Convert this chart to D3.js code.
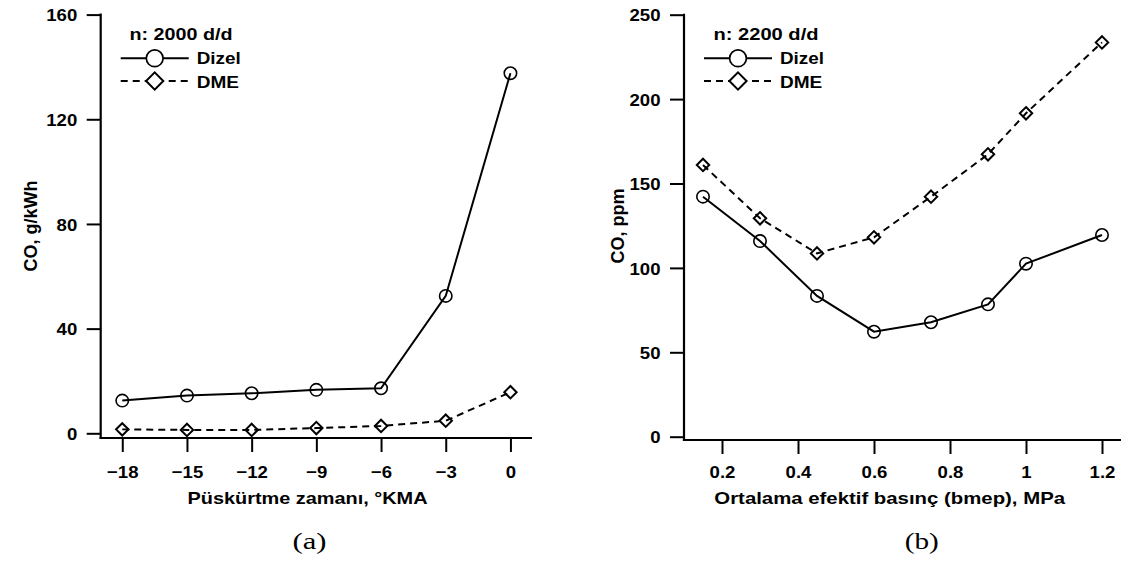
<!DOCTYPE html>
<html>
<head>
<meta charset="utf-8">
<script src="https://cdn.jsdelivr.net/npm/d3@7"></script>
<style>
  html, body { margin: 0; padding: 0; background: #fff; }
  svg { display: block; }
  text { font-family: "Liberation Sans", Arial, Helvetica, sans-serif; font-weight: bold; fill: #000; }
  text.cap { font-family: "Liberation Serif", "Times New Roman", serif; font-weight: normal; }
</style>
</head>
<body>
<svg id="chart" width="1121" height="565"></svg>
<script>
// (a) CO vs injection timing at 2000 rpm
const timingX = [-18, -15, -12, -9, -6, -3, 0];
const timingDizel = [12.5, 14.4, 15.3, 16.6, 17.2, 52.5, 137.6];
const timingDME = [1.5, 1.3, 1.3, 2.0, 2.8, 4.8, 15.7];
const timingXTicks = [-18, -15, -12, -9, -6, -3, 0];
const timingYTicks = [0, 40, 80, 120, 160];

// (b) CO vs brake mean effective pressure at 2200 rpm
const bmepX = [0.15, 0.3, 0.45, 0.6, 0.75, 0.9, 1.0, 1.2];
const bmepDizel = [142.2, 115.9, 83.4, 62.2, 67.8, 78.4, 102.5, 119.5];
const bmepDME = [161, 129.4, 108.6, 118.1, 142.2, 167.3, 191.6, 233.6];
const bmepXTicks = [0.2, 0.4, 0.6, 0.8, 1, 1.2];
const bmepYTicks = [0, 50, 100, 150, 200, 250];

const seriesNames = ["Dizel", "DME"];

const svg = d3.select("#chart");
const FS = 17;

// horizontal stretch that gives the bold tick digits their wide look
const probe = svg.append("text").attr("font-size", FS).text("160");
const tickStretch = 31 / probe.node().getComputedTextLength();
probe.remove();

// squeeze/stretch a horizontal label to a given width
function fit(sel, w) {
  return sel.attr("textLength", w).attr("lengthAdjust", "spacingAndGlyphs");
}

const panels = [
  {
    x: timingX, dizel: timingDizel, dme: timingDME,
    xTicks: timingXTicks, yTicks: timingYTicks,
    xDomain: [-19, 1], xRange: [100.7, 532],
    yDomain: [0, 160], yRange: [433.3, 14.6],
    xAxisY: 438,
    title: "Püskürtme zamanı, °KMA", titleX: 307.5, titleW: 240,
    yTitle: "CO, g/kWh", yTitleX: 37,
    legendHead: "n: 2000 d/d", legendX: 120.7, legendHeadX: 181, legendHeadW: 103,
    caption: "(a)", captionX: 309.5,
    fmt: d => d3.format("d")(d)
  },
  {
    x: bmepX, dizel: bmepDizel, dme: bmepDME,
    xTicks: bmepXTicks, yTicks: bmepYTicks,
    xDomain: [0.1, 1.25], xRange: [684, 1121],
    yDomain: [0, 250], yRange: [436.7, 14.7],
    xAxisY: 440,
    title: "Ortalama efektif basınç (bmep), MPa", titleX: 889.7, titleW: 350.7,
    yTitle: "CO, ppm", yTitleX: 624,
    legendHead: "n: 2200 d/d", legendX: 704, legendHeadX: 766, legendHeadW: 105,
    caption: "(b)", captionX: 921.7,
    fmt: d => String(d)
  }
];

panels.forEach(p => {
  const x = d3.scaleLinear().domain(p.xDomain).range(p.xRange);
  const y = d3.scaleLinear().domain(p.yDomain).range(p.yRange);
  const g = svg.append("g");
  const x0 = p.xRange[0];

  // bottom axis, drawn a little below the zero level
  const xa = g.append("g")
    .attr("transform", `translate(0,${p.xAxisY})`)
    .call(d3.axisBottom(x).tickValues(p.xTicks).tickSize(14).tickSizeOuter(0).tickFormat(p.fmt));
  xa.select(".domain").remove();
  xa.attr("font-family", null);
  xa.selectAll(".tick line").attr("stroke", "#000").attr("stroke-width", 2);
  xa.selectAll(".tick text")
    .attr("y", 478.3 - p.xAxisY).attr("dy", null)
    .attr("font-size", FS)
    .attr("transform", `scale(${tickStretch},1)`);

  // left axis
  const ya = g.append("g")
    .attr("transform", `translate(${x0},0)`)
    .call(d3.axisLeft(y).tickValues(p.yTicks).tickSize(14).tickSizeOuter(0));
  ya.select(".domain").remove();
  ya.attr("font-family", null);
  ya.selectAll(".tick line").attr("stroke", "#000").attr("stroke-width", 2);
  ya.selectAll(".tick text")
    .attr("x", -23.5 / tickStretch).attr("dy", "0.36em")
    .attr("font-size", FS)
    .attr("transform", `scale(${tickStretch},1)`);

  // axis lines
  g.append("line")
    .attr("x1", x0).attr("x2", x0)
    .attr("y1", p.yRange[1] - 1).attr("y2", p.xAxisY + 1)
    .attr("stroke", "#000").attr("stroke-width", 2.2);
  g.append("line")
    .attr("x1", x0 - 1.1).attr("x2", p.xRange[1])
    .attr("y1", p.xAxisY).attr("y2", p.xAxisY)
    .attr("stroke", "#000").attr("stroke-width", 2.2);

  const line = d3.line().x(d => x(d[0])).y(d => y(d[1]));
  const dizelPts = p.x.map((v, i) => [v, p.dizel[i]]);
  const dmePts = p.x.map((v, i) => [v, p.dme[i]]);

  g.append("path").datum(dizelPts).attr("d", line)
    .attr("fill", "none").attr("stroke", "#000").attr("stroke-width", 2);
  g.append("path").datum(dmePts).attr("d", line)
    .attr("fill", "none").attr("stroke", "#000").attr("stroke-width", 2)
    .attr("stroke-dasharray", "7,5");

  const diamond = (cx, cy, r) => `M${cx},${cy - r}L${cx + r},${cy}L${cx},${cy + r}L${cx - r},${cy}Z`;

  g.selectAll(".mc").data(dizelPts).join("circle")
    .attr("cx", d => x(d[0])).attr("cy", d => y(d[1])).attr("r", 6.2)
    .attr("fill", "none").attr("stroke", "#000").attr("stroke-width", 1.6);
  g.selectAll(".md").data(dmePts).join("path")
    .attr("d", d => diamond(x(d[0]), y(d[1]), 6.2))
    .attr("fill", "none").attr("stroke", "#000").attr("stroke-width", 2);

  // legend
  const lx = p.legendX, lw = 68;
  fit(g.append("text").attr("text-anchor", "middle").attr("font-size", FS)
    .attr("x", p.legendHeadX).attr("y", 40)
    .text(p.legendHead), p.legendHeadW);
  g.append("line").attr("x1", lx).attr("x2", lx + lw).attr("y1", 58.3).attr("y2", 58.3)
    .attr("stroke", "#000").attr("stroke-width", 2);
  g.append("circle").attr("cx", lx + lw / 2).attr("cy", 58.3).attr("r", 8.4)
    .attr("fill", "#fff").attr("stroke", "#000").attr("stroke-width", 1.7);
  g.append("line").attr("x1", lx).attr("x2", lx + lw).attr("y1", 81).attr("y2", 81)
    .attr("stroke", "#000").attr("stroke-width", 2).attr("stroke-dasharray", "7,5");
  g.append("path").attr("d", diamond(lx + lw / 2, 81, 8.6))
    .attr("fill", "#fff").attr("stroke", "#000").attr("stroke-width", 2);
  fit(g.append("text").attr("font-size", FS).attr("x", lx + 76).attr("y", 64)
    .text(seriesNames[0]), 44);
  fit(g.append("text").attr("font-size", FS).attr("x", lx + 76).attr("y", 87.5)
    .text(seriesNames[1]), 42.3);

  // axis titles
  fit(g.append("text").attr("text-anchor", "middle").attr("font-size", FS)
    .attr("x", p.titleX).attr("y", 504)
    .text(p.title), p.titleW);
  g.append("text").attr("text-anchor", "middle").attr("font-size", 18)
    .attr("transform", `translate(${p.yTitleX},226) rotate(-90)`)
    .text(p.yTitle);

  // panel caption
  fit(g.append("text").attr("class", "cap").attr("text-anchor", "middle").attr("font-size", 23)
    .attr("x", p.captionX).attr("y", 549)
    .text(p.caption), 34);
});
</script>
</body>
</html>
